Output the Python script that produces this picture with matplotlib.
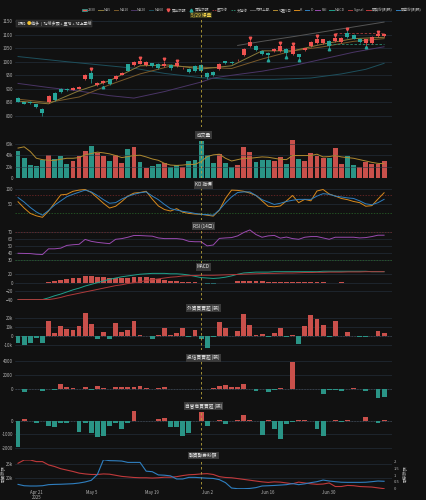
"""
2330 daily dashboard: candles + volume + KD + RSI + MACD + institutional flows + margin balance.
Values read off the reference picture.
"""
import matplotlib
matplotlib.use("Agg")
import matplotlib.pyplot as plt
from matplotlib.lines import Line2D
from matplotlib.patches import Patch, Rectangle
import pandas as pd

plt.rcParams['font.family'] = ['Noto Sans CJK TC', 'DejaVu Sans']

BG = '#111111'
GRID = '#283442'
TXT = '#b4b4b4'
UP = '#ef5350'
DN = '#26a69a'
UP_BAR = '#c9504b'
DN_BAR = '#2a9486'
VLINE = '#b8a23a'

# ---- data -------------------------------------------------------------
dates = pd.bdate_range('2025-04-16', '2025-07-15')
dates = dates.drop(pd.to_datetime(['2025-05-01', '2025-05-30']))[:61]
tick_dates = ['2025-04-21', '2025-05-05', '2025-05-19', '2025-06-02', '2025-06-16', '2025-06-30']
event_idx = 30

opens = [866, 850, 853, 843, 826, 851, 886, 899, 899, 896, 901, 935, 958, 915, 923, 935,
         936, 952, 990, 989, 993, 989, 994, 991, 985, 988, 984, 975, 973, 985, 988, 960,
         962, 973, 1001, 999, 1005, 1025, 1058, 1058, 1041, 1031, 1040, 1040, 1047, 1028,
         1027, 1044, 1059, 1068, 1068, 1076, 1077, 1073, 1107, 1098, 1085, 1068, 1068, 1095, 1095]
closes = [853, 846, 849, 833, 812, 872, 860, 887, 894, 902, 908, 950, 936, 923, 929, 917,
          949, 960, 967, 1000, 1003, 999, 983, 976, 993, 978, 996, 978, 963, 966, 966, 945,
          950, 991, 995, 994, 1006, 1047, 1072, 1044, 1028, 1025, 1047, 1058, 1031, 1058,
          1019, 1049, 1072, 1082, 1082, 1058, 1087, 1087, 1090, 1085, 1073, 1082, 1092, 1102, 1102]
highs = [870, 852, 856, 846, 829, 876, 889, 902, 902, 905, 911, 954, 969, 926, 932, 938,
         952, 963, 993, 1003, 1012, 1002, 997, 994, 1003, 991, 999, 981, 976, 988, 991, 963,
         965, 994, 1004, 1002, 1009, 1050, 1082, 1061, 1044, 1034, 1050, 1068, 1050, 1062,
         1030, 1052, 1075, 1090, 1085, 1079, 1094, 1090, 1116, 1101, 1088, 1085, 1095, 1106, 1105]
lows = [850, 843, 846, 830, 801, 848, 857, 884, 891, 894, 899, 932, 920, 912, 918, 913,
        933, 950, 964, 986, 990, 986, 980, 972, 982, 969, 981, 972, 960, 963, 962, 936,
        947, 970, 992, 991, 1002, 1022, 1055, 1041, 1025, 1010, 1037, 1037, 1021, 1025,
        1009, 1041, 1056, 1065, 1065, 1050, 1074, 1070, 1087, 1082, 1070, 1058, 1065, 1092, 1092]

ma_idx = [0, 5, 10, 15, 20, 25, 30, 35, 40, 45, 50, 55, 60]
ma5 = [855, 845, 893, 930, 985, 988, 973, 985, 1040, 1040, 1065, 1085, 1090]
ma10 = [862, 850, 870, 915, 955, 984, 980, 975, 1010, 1040, 1055, 1075, 1085]
ma20_idx = [0, 5, 10, 15, 19, 24, 30, 32, 35, 40, 45, 50, 55, 60]
ma20 = [920, 905, 892, 875, 866, 890, 925, 940, 950, 965, 985, 1010, 1035, 1055]
ma60_idx = [0, 8, 19, 24, 30, 35, 42, 48, 53, 57, 60]
ma60 = [1019, 1000, 976, 957, 941, 935, 935, 940, 955, 972, 994]
band_idx = [36, 40, 45, 50, 55, 60]
band_up = [1060, 1075, 1092, 1110, 1128, 1146]

sell_idx = [12, 20, 24, 26, 38, 43, 45, 49, 52, 54, 59]
sell_px = [974, 1014, 1010, 1004, 1086, 1070, 1066, 1095, 1097, 1119, 1111]
buy_idx = [14, 41, 44, 46, 51, 57]
buy_px = [908, 1006, 1016, 1005, 1046, 1054]
resist_idx = [52, 60]
resist_px = [1104, 1104]
support_idx = [51, 60]
support_px = [1064, 1064]

volume = [46.8, 36.0, 22.8, 20.4, 31.2, 40.2, 34.2, 39.0, 24.6, 30.6, 38.4, 48.0, 56.4, 43.8,
          39.0, 30.6, 41.4, 25.8, 51.0, 55.2, 28.2, 18.0, 21.6, 24.0, 27.0, 19.8, 22.8, 19.8,
          30.0, 31.8, 64.8, 40.2, 27.0, 42.0, 26.4, 18.6, 23.4, 55.2, 46.2, 28.2, 31.2, 31.2,
          30.6, 36.6, 24.6, 67.8, 33.6, 30.0, 43.8, 39.0, 34.8, 36.0, 52.2, 24.0, 39.0, 23.4,
          19.8, 28.2, 25.2, 24.0, 30.0]
vol_up = [0, 0, 0, 0, 0, 1, 0, 0, 0, 1, 1, 1, 0, 1, 1, 0, 1, 1, 0, 1, 0, 1, 0, 0, 1, 0, 0, 1,
          0, 0, 0, 0, 0, 1, 0, 0, 1, 1, 1, 0, 0, 0, 1, 1, 0, 1, 0, 1, 1, 1, 1, 0, 1, 1, 0, 0,
          1, 1, 1, 1, 1]
vol_ma = [52.8, 55.0, 46.8, 34.8, 32.4, 31.2, 31.2, 33.0, 34.8, 34.8, 36.0, 40.8, 43.2, 45.6,
          44.4, 42.6, 39.6, 36.0, 37.8, 39.6, 40.2, 37.2, 33.6, 31.2, 25.8, 22.8, 22.2, 22.8,
          24.0, 24.0, 28.8, 37.8, 40.8, 42.0, 34.8, 30.0, 32.4, 34.8, 34.8, 36.0, 37.2, 36.6,
          34.8, 33.0, 32.4, 39.6, 39.6, 39.6, 39.6, 42.0, 37.2, 37.8, 39.6, 37.2, 36.0, 34.8,
          32.4, 30.0, 27.6, 25.8, 25.2]

k_val = [59, 38, 20, 12, 7, 28, 55, 82, 84, 94, 98, 100, 90, 72, 54, 38, 44, 60, 78, 88, 90,
         94, 68, 45, 33, 28, 36, 24, 20, 18, 17, 14, 11, 31, 70, 98, 97, 94, 88, 80, 62, 44,
         42, 45, 62, 80, 56, 67, 62, 95, 100, 85, 78, 70, 66, 60, 56, 44, 46, 68, 89]
d_val = [73, 58, 40, 25, 14, 30, 48, 62, 76, 84, 91, 98, 92, 80, 66, 54, 56, 68, 77, 84, 89,
         92, 78, 66, 50, 36, 31, 27, 24, 20, 17, 16, 14, 32, 55, 75, 90, 92, 92, 80, 66, 58,
         50, 54, 60, 64, 67, 67, 67, 78, 86, 84, 78, 75, 72, 70, 62, 52, 49, 56, 67]

rsi = [39.4, 39.2, 39.0, 38.0, 37.6, 46.0, 46.0, 47.0, 51.0, 52.0, 52.6, 59.8, 57.0, 55.5,
       54.5, 53.6, 60.0, 61.0, 63.0, 65.6, 65.5, 65.0, 64.6, 62.0, 61.0, 61.0, 61.0, 60.0,
       57.0, 56.4, 56.4, 50.3, 51.6, 61.3, 62.0, 62.5, 65.0, 70.0, 73.7, 67.0, 63.0, 65.0,
       65.7, 61.7, 63.3, 61.0, 60.0, 63.0, 64.0, 64.0, 62.0, 60.0, 63.0, 63.0, 63.0, 63.0,
       62.0, 62.5, 64.0, 66.0, 66.0]

macd = [-40, -40, -40, -40, -40, -36, -31, -27, -22, -17, -13, -8, -4, 0, 4, 8, 11, 14, 16,
        18, 20, 21, 22, 22, 22, 21, 21, 20, 18, 15, 12, 11, 10, 11, 13, 16, 20, 23, 24, 25,
        25, 25, 26, 26, 26, 26, 26, 26, 26, 26, 27, 27, 27, 27, 27, 27, 27, 27, 26, 26, 26]
signal = [-40, -40, -40, -40, -40, -40, -38, -35, -31, -28, -25, -22, -19, -16, -13, -10, -7,
          -5, -2, 0, 2, 5, 7, 9, 11, 13, 14, 16, 16.5, 17, 17.5, 17.5, 17.5, 18, 18.5, 19, 19.5,
          20, 20.5, 21, 21.5, 22, 22, 22.5, 23, 23, 23.5, 24, 24, 24.5, 24.5, 25, 25, 25, 25.5,
          25.5, 25.5, 26, 26, 26, 26]
hist = [0, 0, 0, 0, 0, 2.4, 3.9, 6.3, 9.4, 10.2, 11.8, 14.9, 14.9, 13.3, 12.5, 11.8, 11.0,
        10.2, 11.0, 13.3, 13.3, 12.5, 11.8, 9.4, 7.0, 4.7, 3.1, 2.4, 1.6, 0.8, -0.5, -2.4, -2.4,
        -1.6, 0.2, 0.3, 3.0, 4.7, 4.7, 3.9, 3.1, 2.4, 2.4, 2.4, 1.6, 1.6, 0.8, 0.6, 0.5, 0.5,
        0.4, 0.3, 0.3, 0.4, 0.3, 0.3, 0.2, 0.3, 0.3, 0.2, 0.2]

foreign = [-7800, -9600, -7000, -1500, -7800, 17400, 4000, 11500, 8500, 7400, 11500, 26000,
           13700, -3000, 4800, -3300, 14400, 4400, 6700, 17400, 1500, 700, -3300, 1100, 8900,
           1100, 3700, 8900, -1100, 7000, -3000, -13300, -500, 16000, 9600, 700, 5500, 24800,
           12200, 1500, 2600, -700, 3700, 8900, -1000, 1500, -8500, 11000, 23700, 19200, 12200,
           -1000, 17400, 700, 4400, 300, -300, -300, 300, 5500, 4000]
trust = [0, -440, 0, 0, -300, 0, -150, 730, 200, 50, 0, 200, -200, 340, 100, -60, 290, 240,
         200, 240, 440, 100, 0, 80, 200, 0, 0, -50, 0, 0, 0, 0, 100, 390, 590, 200, 240, 630,
         -50, -390, 0, -440, -240, 60, 0, 3850, 0, 0, 0, 0, -730, -240, -240, -290, 0, 100, 0,
         -390, 0, -1320, -1270]
dealer = [-1925, 150, 0, -125, 0, -375, -425, -150, -125, 0, -850, -125, -900, -1175, -1100,
          -350, -175, -575, -125, 750, 0, 0, 30, 150, 250, -425, -425, -1150, -925, 0, 700,
          -375, 0, 75, -250, 0, 50, 450, 40, 0, -1050, 100, -600, -1325, -200, -100, 50, 75,
          0, -625, -1100, 0, 100, -75, 75, 0, 0, 300, 0, -175, 50]

margin_long = [25.4, 26.6, 26.6, 26.0, 26.0, 24.8, 24.2, 23.4, 22.9, 22.4, 21.8, 21.5, 21.3,
               21.3, 21.5, 21.4, 21.0, 20.6, 20.4, 20.2, 20.1, 20.1, 20.0, 20.1, 20.3, 20.3,
               20.5, 20.9, 21.2, 21.3, 21.5, 21.6, 21.3, 20.5, 20.2, 20.1, 19.8, 19.5, 19.2,
               18.9, 18.6, 18.4, 18.6, 18.5, 18.2, 17.9, 18.5, 18.2, 17.9, 17.7, 17.8, 18.2,
               16.9, 16.9, 17.3, 17.2, 16.9, 16.8, 16.7, 16.4, 16.1]
margin_short = [0.32, 0.22, 0.2, 0.2, 0.22, 0.3, 0.32, 0.33, 0.35, 0.37, 0.42, 0.5, 0.62, 1.05,
                2.15, 2.08, 2.07, 2.05, 1.95, 1.95, 1.95, 1.3, 1.26, 1.02, 1.0, 0.95, 0.72,
                0.72, 0.84, 0.84, 0.81, 0.78, 0.76, 0.67, 0.45, 0.05, 0.0, 0.0, 0.02, 0.08,
                0.2, 0.22, 0.24, 0.27, 0.3, 0.38, 0.3, 0.36, 0.45, 0.52, 0.64, 0.57, 0.52,
                0.48, 0.47, 0.47, 0.47, 0.48, 0.52, 0.57, 0.55]

# ---- layout helpers ----------------------------------------------------
W_PX, H_PX = 427, 500
X0, X1 = 15, 392
idx = list(range(len(dates)))
tick_idx = [list(dates).index(pd.Timestamp(d)) for d in tick_dates]
tick_lab = [f"{dates[i]:%b} {dates[i].day}" for i in tick_idx]
tick_lab[0] += "\n2025"

fig = plt.figure(figsize=(W_PX / 100, H_PX / 100), dpi=100, facecolor=BG)


def panel(top, bottom):
    ax = fig.add_axes([X0 / W_PX, 1 - bottom / H_PX, (X1 - X0) / W_PX, (bottom - top) / H_PX])
    ax.set_facecolor(BG)
    ax.set_xlim(-0.5, 61.3)
    ax.set_xticks(tick_idx)
    ax.tick_params(axis='x', labelbottom=False, length=0)
    ax.tick_params(axis='y', colors=TXT, labelsize=3.2, length=0, pad=1.5)
    ax.grid(axis='y', color=GRID, lw=0.4)
    for s in ax.spines.values():
        s.set_visible(False)
    ax.axvline(event_idx, color=VLINE, ls=(0, (3, 3)), lw=0.6, zorder=5)
    return ax


def title(y_px, text):
    fig.text((X0 + X1) / 2 / W_PX, 1 - y_px / H_PX, text, ha='center', va='center',
             color='#e8e8e8', fontsize=3.4,
             bbox=dict(boxstyle='square,pad=0.25', fc='#3a3a3a', ec='none'))


# ---- price panel -------------------------------------------------------
ax = panel(18, 127)
ax.set_ylim(759.5, 1161)
ax.set_yticks(range(800, 1151, 50))
ax.plot(ma60_idx, ma60, color='#1d4f5c', lw=0.7)
ax.plot(ma20_idx, ma20, color='#4a3566', lw=0.7)
ax.plot(ma_idx, ma10, color='#7a5a2a', lw=0.7)
ax.plot(ma_idx, ma5, color='#8a7a3a', lw=0.7)
ax.plot(band_idx, band_up, color='#555555', lw=0.7)
ax.plot(resist_idx, resist_px, color='#a33a3a', lw=0.6, ls=(0, (3, 2)))
ax.plot(support_idx, support_px, color='#2a8a70', lw=0.6, ls=(0, (3, 2)))
for i in idx:
    c = UP if closes[i] >= opens[i] else DN
    ax.vlines(i, lows[i], highs[i], color=c, lw=0.5, zorder=3)
    lo, hi = min(opens[i], closes[i]), max(opens[i], closes[i])
    ax.bar(i, max(hi - lo, 1.5), bottom=lo, width=0.65, color=c, zorder=4, lw=0)
ax.plot(sell_idx, sell_px, 'v', color=UP, ms=1.8, zorder=6)
ax.plot(buy_idx, buy_px, '^', color=DN, ms=1.8, zorder=6)

fig.add_artist(Rectangle((X0 / W_PX + 0.002, 1 - 26.5 / H_PX), 76 / W_PX, 6 / H_PX,
                         transform=fig.transFigure, fc='#262626', ec='#444444', lw=0.3))
fig.text(17.5 / W_PX, 1 - 23.5 / H_PX, "訊號:", color='#dddddd', fontsize=2.9, va='center')
fig.text(27 / W_PX, 1 - 23.5 / H_PX, "●", color='#f2c230', fontsize=3.2, va='center')
fig.text(31.5 / W_PX, 1 - 23.5 / H_PX, "偏多  |  均線多頭 + 量增 + 站上季線",
         color='#dddddd', fontsize=2.9, va='center')
fig.text((event_idx * 6.1 + 18) / W_PX, 1 - 15 / H_PX, "5/29 爆量", ha='center', va='center',
         color='#f2d24a', fontsize=3.4,
         bbox=dict(boxstyle='square,pad=0.2', fc='#3a3a1e', ec='none'))

# ---- volume ------------------------------------------------------------
ax = panel(139, 178)
title(135, "成交量")
ax.set_ylim(0, 68.8)
ax.set_yticks([0, 20, 40, 60])
ax.set_yticklabels(['0', '20k', '40k', '60k'])
ax.bar(idx, volume, width=0.8, color=[UP_BAR if u else DN_BAR for u in vol_up], lw=0)
ax.plot(idx, vol_ma, color='#b08a30', lw=0.7)

# ---- KD ----------------------------------------------------------------
ax = panel(188, 220)
title(185, "KD 指標")
ax.set_ylim(-2, 105)
ax.set_yticks([50, 100])
ax.axhline(80, color='#7a2a2a', ls=(0, (2, 2)), lw=0.5)
ax.axhline(20, color='#2a6a2a', ls=(0, (2, 2)), lw=0.5)
ax.plot(idx, k_val, color='#d98a1c', lw=0.7)
ax.plot(idx, d_val, color='#2f7fc0', lw=0.7)

# ---- RSI ---------------------------------------------------------------
ax = panel(228.4, 263.1)
title(226, "RSI (14日)")
ax.set_ylim(25, 76)
ax.set_yticks([30, 40, 50, 60, 70])
ax.axhline(70, color='#7a2a2a', ls=(0, (2, 2)), lw=0.5)
ax.axhline(30, color='#2a6a2a', ls=(0, (2, 2)), lw=0.5)
ax.plot(idx, rsi, color='#9a4ab0', lw=0.7)

# ---- MACD --------------------------------------------------------------
ax = panel(270, 300.4)
title(267, "MACD")
ax.set_ylim(-42, 30)
ax.set_yticks([-40, -20, 0, 20])
ax.bar(idx, hist, width=0.8, color=[UP_BAR if h >= 0 else DN for h in hist], lw=0)
ax.plot(idx, macd, color='#1fa08a', lw=0.7)
ax.plot(idx, signal, color='#b03a3a', lw=0.7)

# ---- institutional flows -----------------------------------------------
flows = [(312.9, 349.8, 308, "外資買賣超 (張)", foreign, (-15000, 26000),
          [-10000, 0, 10000, 20000], ['-10k', '0', '10k', '20k']),
         (360.6, 399.0, 357.7, "投信買賣超 (張)", trust, (-1500, 4100),
          [0, 2000, 4000], ['0', '2000', '4000']),
         (409.7, 450.3, 406.3, "自營商買賣超 (張)", dealer, (-2200, 850),
          [-2000, -1000, 0], ['-2000', '-1000', '0'])]
for top, bot, ty, name, vals, lim, ticks, labs in flows:
    ax = panel(top, bot)
    title(ty, name)
    ax.set_ylim(*lim)
    ax.set_yticks(ticks)
    ax.set_yticklabels(labs)
    ax.axhline(0, color='#666666', ls=(0, (2, 2)), lw=0.5, zorder=1)
    ax.bar(idx, vals, width=0.8, color=[UP_BAR if v >= 0 else DN_BAR for v in vals], lw=0,
           zorder=2)

# ---- margin balance ----------------------------------------------------
ax = panel(459.7, 488.7)
title(455.7, "融資融券餘額")
ax.set_ylim(16.1, 26.7)
ax.set_yticks([20, 25])
ax.set_yticklabels(['20k', '25k'])
ax.plot(idx, margin_long, color='#c0393b', lw=0.8)
ax.tick_params(axis='x', labelbottom=True, colors=TXT, labelsize=3.1, pad=0.8)
ax.set_xticklabels(tick_lab, linespacing=0.95)
fig.text(3 / W_PX, 1 - 474 / H_PX, "融資餘額", rotation=90, ha='center', va='center',
         color=TXT, fontsize=3.0)
ax2 = ax.twinx()
ax2.set_ylim(0, 2.15)
ax2.set_yticks([0, 0.5, 1, 1.5, 2])
ax2.set_yticklabels(['0', '0.5', '1', '1.5', '2'])
ax2.tick_params(axis='y', colors=TXT, labelsize=3.0, length=0, pad=1.2)
for s in ax2.spines.values():
    s.set_visible(False)
ax2.plot(idx, margin_short, color='#2f7fc0', lw=0.8)
fig.text(405 / W_PX, 1 - 474 / H_PX, "融券餘額", rotation=90, ha='center', va='center',
         color=TXT, fontsize=3.0)

# ---- legend ------------------------------------------------------------
handles = [Patch(fc=UP, ec=DN, lw=0.5),
           Line2D([], [], color='#8a7a3a', lw=0.7), Line2D([], [], color='#7a5a2a', lw=0.7),
           Line2D([], [], color='#4a3566', lw=0.7), Line2D([], [], color='#1d4f5c', lw=0.7),
           Line2D([], [], color=UP, marker='v', ls='none', ms=2),
           Line2D([], [], color=DN, marker='^', ls='none', ms=2),
           Line2D([], [], color='#a33a3a', lw=0.6, ls=(0, (2, 1))),
           Line2D([], [], color='#2a8a70', lw=0.6, ls=(0, (2, 1))),
           Line2D([], [], color='#555555', lw=0.7), Line2D([], [], color='#b08a30', lw=0.7),
           Line2D([], [], color='#d98a1c', lw=0.7), Line2D([], [], color='#2f7fc0', lw=0.7),
           Line2D([], [], color='#9a4ab0', lw=0.7), Line2D([], [], color='#1fa08a', lw=0.7),
           Line2D([], [], color='#b03a3a', lw=0.7), Line2D([], [], color='#c0393b', lw=0.7),
           Line2D([], [], color='#2f7fc0', lw=0.7)]
labels = ["2330", "MA5", "MA10", "MA20", "MA60", "賣出訊號", "買進訊號", "壓力線", "支撐線",
          "布林上軌", "均量5日", "K", "D", "RSI", "MACD", "Signal", "融資餘額(張)", "融券餘額(張)"]
fig.legend(handles, labels, loc='center', bbox_to_anchor=(252 / W_PX, 1 - 10 / H_PX),
           ncol=18, fontsize=2.6, frameon=False, handlelength=1.3, handleheight=0.6,
           columnspacing=0.7, handletextpad=0.3, labelcolor=TXT, borderpad=0)

fig.savefig("out.png", dpi=100, facecolor=BG)
